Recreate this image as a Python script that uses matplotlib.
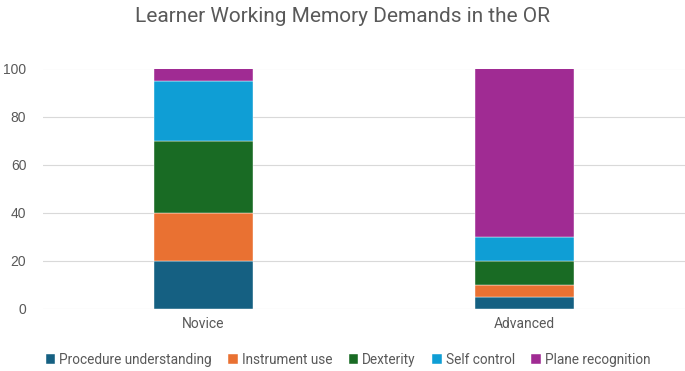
import matplotlib.pyplot as plt
import numpy as np

# Datos
categorias = ['Novice', 'Advanced']
series = ['Procedure understanding', 'Instrument use', 'Dexterity',
          'Self control', 'Plane recognition']
procedure = [20, 5]
instrument = [20, 5]
dexterity = [30, 10]
self_control = [25, 10]
plane = [5, 70]
valores = [procedure, instrument, dexterity, self_control, plane]
colores = ['#156082', '#E97132', '#196B24', '#0F9ED5', '#A02B93']

texto = '#595959'
plt.rcParams['font.family'] = ['Roboto', 'DejaVu Sans']

fig = plt.figure(figsize=(6.85, 3.71), dpi=100)
ax = fig.add_axes([43/685, 62/371, 642/685, 240.5/371])

x = np.arange(len(categorias))
base = np.zeros(len(categorias))
for nombre, vals, c in zip(series, valores, colores):
    ax.bar(x, vals, width=0.31, bottom=base, color=c, label=nombre,
           edgecolor='white', linewidth=0.3, zorder=3)
    base += np.array(vals)

ax.set_xlim(-0.5, 1.5)
ax.set_ylim(0, 100)
ax.set_yticks(range(0, 101, 20))
ax.set_xticks(x)
ax.set_xticklabels(categorias)
ax.grid(axis='y', color='#D9D9D9', linewidth=0.8, zorder=0)
for s in ax.spines.values():
    s.set_visible(False)
ax.tick_params(length=0, colors=texto, labelsize=10)
ax.tick_params(axis='y', pad=12)
ax.tick_params(axis='x', pad=6)
for lab in ax.get_yticklabels():
    lab.set_family(['Liberation Sans', 'DejaVu Sans'])

fig.suptitle('Learner Working Memory Demands in the OR', y=0.98,
             fontsize=15, color=texto)

ax.legend(loc='center', bbox_to_anchor=(0.475, -0.21),
          ncol=5, frameon=False, fontsize=9.8, labelcolor=texto,
          handlelength=0.7, handleheight=0.7, handletextpad=0.3,
          columnspacing=1.2)

fig.savefig('out.png', dpi=100)
